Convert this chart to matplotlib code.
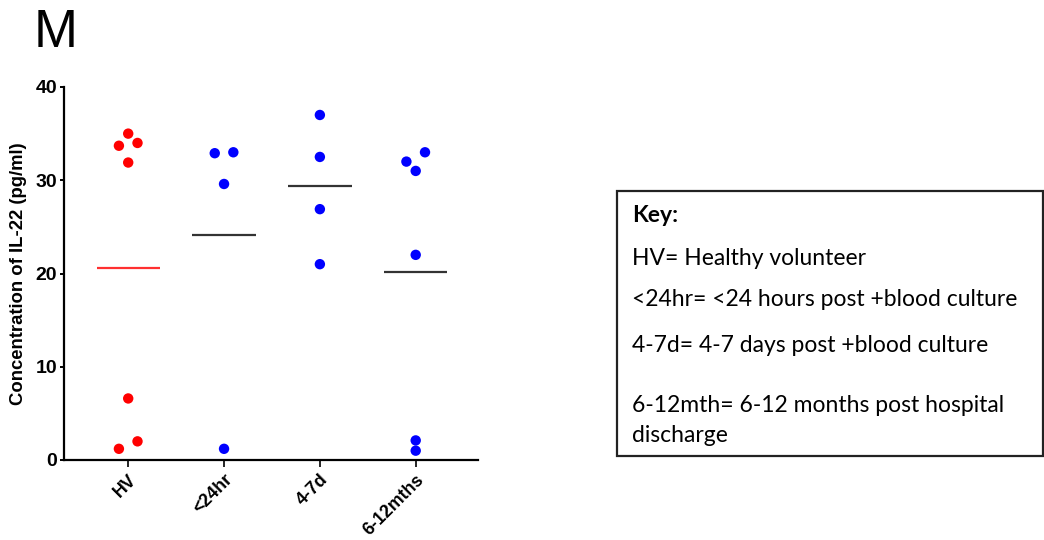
import numpy as np
import matplotlib
matplotlib.use("Agg")
import matplotlib.pyplot as plt
from matplotlib.patches import Rectangle

# Groups and measured IL-22 concentrations (pg/ml)
groups = ["HV", "<24hr", "4-7d", "6-12mths"]
hv_values = [35.0, 33.7, 34.0, 31.9, 6.6, 2.0, 1.2]
h24_values = [32.9, 33.0, 29.6, 1.2]
d47_values = [37.0, 32.5, 26.9, 21.0]
m612_values = [32.0, 33.0, 31.0, 22.0, 2.1, 1.0]

# Horizontal slot of each point within its column (-1 left, 0 centre, 1 right)
hv_slots = [0, -1, 1, 0, 0, 1, -1]
h24_slots = [-1, 1, 0, 0]
d47_slots = [0, 0, 0, 0]
m612_slots = [-1, 1, 0, 0, 0, 0]

group_values = [hv_values, h24_values, d47_values, m612_values]
group_slots = [hv_slots, h24_slots, d47_slots, m612_slots]
point_colors = ["#ff0000", "#0000ff", "#0000ff", "#0000ff"]
mean_colors = ["#ff3030", "#333333", "#333333", "#333333"]

key_title = "Key:"
key_lines = [
    "HV= Healthy volunteer",
    "<24hr= <24 hours post +blood culture",
    "4-7d= 4-7 days post +blood culture",
    "6-12mth= 6-12 months post hospital",
    "discharge",
]

plt.rcParams["font.family"] = ["Liberation Sans", "DejaVu Sans"]

W, H = 1044, 540
fig = plt.figure(figsize=(W / 100, H / 100), dpi=100)
ax = fig.add_axes([64 / W, 80 / H, 414 / W, 373 / H])

slot_step = 0.097
half_width = 0.33
for i, (vals, slots) in enumerate(zip(group_values, group_slots)):
    xs = i + np.array(slots) * slot_step
    ax.scatter(xs, vals, s=56, color=point_colors[i], edgecolors="none", zorder=3, clip_on=False)
    m = np.mean(vals)
    ax.plot([i - half_width, i + half_width], [m, m], color=mean_colors[i], lw=1.6, zorder=2,
            solid_capstyle="butt")

ax.set_xlim(-0.67, 3.65)
ax.set_ylim(0, 40)
ax.set_yticks([0, 10, 20, 30, 40])
ax.set_xticks(range(len(groups)))
ax.set_xticklabels(groups, rotation=45, ha="right", rotation_mode="anchor",
                   fontsize=12.8, fontweight="bold")
for lab in ax.get_yticklabels():
    lab.set_fontsize(14)
    lab.set_fontweight("bold")
ax.set_ylabel("Concentration of IL-22 (pg/ml)", fontsize=13.3, fontweight="bold", labelpad=6)

for side in ["top", "right"]:
    ax.spines[side].set_visible(False)
for side in ["left", "bottom"]:
    ax.spines[side].set_linewidth(1.6)
ax.tick_params(axis="y", direction="out", length=3, width=1.4, pad=2)
ax.tick_params(axis="x", direction="out", length=5, width=1.2, pad=3)

# Panel letter
fig.text(34 / W, 1 - 47 / H, "M", fontsize=38, ha="left", va="baseline")

# Key box
x0, y0, x1, y1 = 617, 191, 1043, 456
fig.patches.append(Rectangle((x0 / W, 1 - y1 / H), (x1 - x0) / W, (y1 - y0) / H,
                             transform=fig.transFigure, fill=False, edgecolor="#222222",
                             linewidth=1.6))
tx = 632 / W
kfont = ["Lato", "DejaVu Sans"]
fig.text(tx, 1 - 222 / H, key_title, fontsize=16.5, fontweight="bold", family=kfont,
         va="baseline")
for yb, line in zip([265, 306, 352, 412, 442], key_lines):
    fig.text(tx, 1 - yb / H, line, fontsize=16.5, family=kfont, va="baseline")

fig.savefig("out.png", dpi=100)
